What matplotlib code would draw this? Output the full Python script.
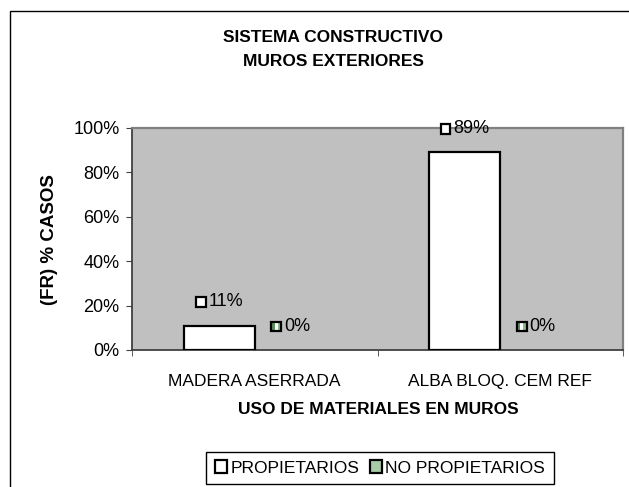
#!/usr/bin/env python3
"""Sistema constructivo - muros exteriores, bar chart."""

import matplotlib

matplotlib.use("Agg")
import matplotlib.pyplot as plt
import numpy as np
from matplotlib.offsetbox import AnnotationBbox, DrawingArea, HPacker, TextArea
from matplotlib.patches import Patch, Rectangle

plt.rcParams["font.family"] = ["Liberation Sans", "DejaVu Sans"]

# Data
categories = ["MADERA ASERRADA", "ALBA BLOQ. CEM REF"]
propietarios = [11, 89]
no_propietarios = [0, 0]
series_names = ["PROPIETARIOS", "NO PROPIETARIOS"]
y_ticks = [0, 20, 40, 60, 80, 100]

W, H = 629, 487
fig = plt.figure(figsize=(W / 100, H / 100), dpi=100)

# outer chart frame (only left/top visible in the original)
fig.patches.append(
    Rectangle((10 / W, -0.05), 1.0, 1.05 - 11 / H, transform=fig.transFigure,
              fill=False, edgecolor="black", linewidth=1.0)
)

ax = fig.add_axes([132 / W, 1 - 350 / H, (623 - 132) / W, 222 / H])
ax.set_facecolor("#c0c0c0")

x = np.arange(len(categories))
width = 0.29
ax.bar(x - width / 2, propietarios, width, color="white",
       edgecolor="black", linewidth=1.6, zorder=3)
ax.bar(x + width / 2, no_propietarios, width, color="#c8e0c8",
       edgecolor="black", linewidth=0, zorder=3)

ax.set_xlim(-0.5, len(categories) - 0.5)
ax.set_ylim(0, 100)
ax.set_yticks(y_ticks)
ax.set_yticklabels([f"{v}%" for v in y_ticks], fontsize=13)
ax.set_xticks(x)
ax.set_xticklabels(categories, fontsize=12.5)
ax.set_xticks(np.arange(len(categories) + 1) - 0.5, minor=True)
ax.tick_params(axis="x", which="major", length=0, pad=17)
ax.tick_params(axis="x", which="minor", length=4, direction="out", color="#404040")
ax.tick_params(axis="y", length=4, pad=5, color="#404040")

for side in ["left", "bottom"]:
    ax.spines[side].set_color("#404040")
    ax.spines[side].set_linewidth(1.3)
for side in ["top", "right"]:
    ax.spines[side].set_color("#808080")
    ax.spines[side].set_linewidth(1.6)


def key_box(kind):
    da = DrawingArea(8, 8, 0, 0)
    if kind == 0:
        da.add_artist(Rectangle((0.5, 0.5), 7, 7, facecolor="white",
                                edgecolor="black", linewidth=1.6))
    else:
        for i, c in enumerate(["#5f8f5f", "#ffffff", "#8fb88f"]):
            da.add_artist(Rectangle((0.5 + i * 7 / 3, 0.5), 7 / 3, 7,
                                    facecolor=c, edgecolor="none"))
        da.add_artist(Rectangle((0.5, 0.5), 7, 7, fill=False,
                                edgecolor="black", linewidth=1.6))
    return da


# data labels with legend keys, centred over each bar
for s, values in enumerate([propietarios, no_propietarios]):
    offs = -width / 2 if s == 0 else width / 2
    for i, v in enumerate(values):
        box = HPacker(children=[key_box(s),
                                TextArea(f"{v}%", textprops=dict(fontsize=13))],
                      align="center", pad=0, sep=1.5)
        ab = AnnotationBbox(box, (x[i] + offs, v), xybox=(0, 17),
                            boxcoords="offset points", frameon=False,
                            box_alignment=(0.5, 0.5), annotation_clip=False)
        ax.add_artist(ab)

# titles and axis labels
fig.text(333 / W, 1 - 38 / H, "SISTEMA CONSTRUCTIVO", ha="center", va="center",
         fontsize=12.5, fontweight="bold")
fig.text(333 / W, 1 - 61 / H, "MUROS EXTERIORES", ha="center", va="center",
         fontsize=12.5, fontweight="bold")
fig.text(50 / W, 1 - 240 / H, "(FR) % CASOS", ha="center", va="center",
         rotation=90, fontsize=13.5, fontweight="bold")
fig.text(378 / W, 1 - 410 / H, "USO DE MATERIALES EN MUROS", ha="center",
         va="center", fontsize=12.5, fontweight="bold")

handles = [
    Patch(facecolor="white", edgecolor="black", linewidth=1.6),
    Patch(facecolor="#a8cca8", edgecolor="black", linewidth=1.6),
]
leg = fig.legend(handles, series_names, loc="center",
                 bbox_to_anchor=(380 / W, 1 - 468 / H), ncol=2, fontsize=12.5,
                 frameon=True, fancybox=False, edgecolor="black", framealpha=1,
                 handlelength=0.7, handleheight=0.7, handletextpad=0.2,
                 columnspacing=0.6, borderpad=0.5, borderaxespad=0)
leg.get_frame().set_linewidth(1.0)

fig.savefig("out.png", dpi=100)
